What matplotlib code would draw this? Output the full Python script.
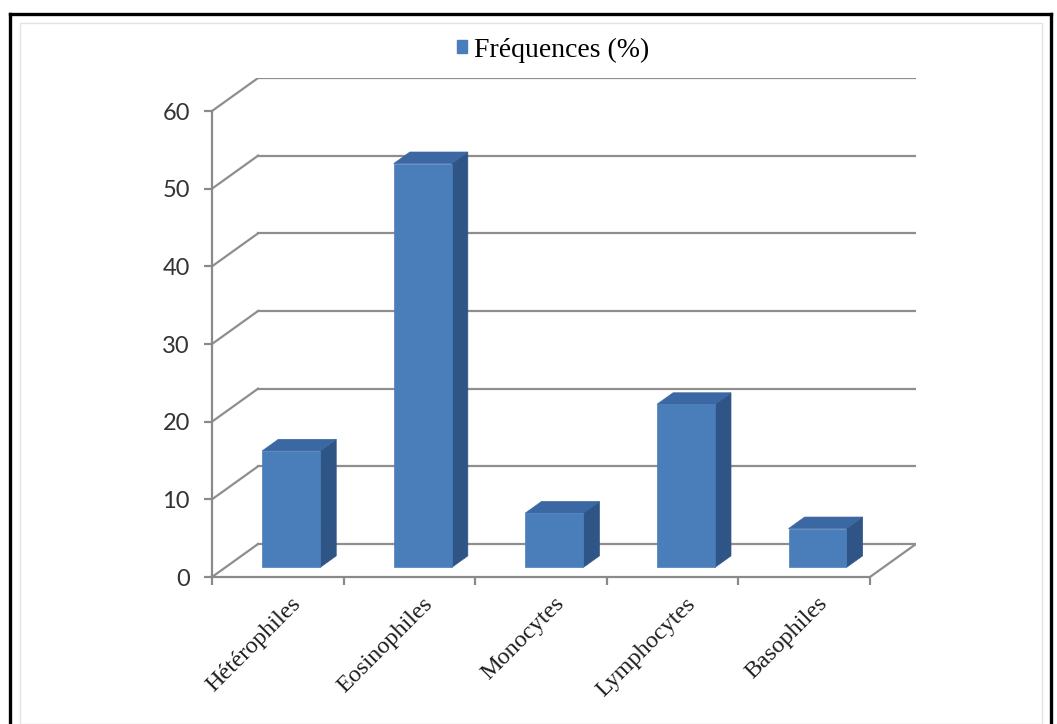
import matplotlib
matplotlib.use("Agg")
import matplotlib.pyplot as plt
from matplotlib.patches import Polygon, Patch
from matplotlib.lines import Line2D
import matplotlib.transforms as mtransforms

# Data
categories = ["Hétérophiles", "Eosinophiles", "Monocytes", "Lymphocytes", "Basophiles"]
frequences = [15, 52, 7, 21, 5]
y_ticks = [0, 10, 20, 30, 40, 50, 60]
legend_label = "Fréquences (%)"

W, H = 1057, 724
fig = plt.figure(figsize=(W / 100, H / 100), dpi=100)
fig.patch.set_facecolor("white")

# Oblique depth offset of the back wall, in data units
DX = 0.35   # along the category axis
DY = 4.25   # along the value axis
n = len(categories)
ymax = y_ticks[-1]

# Axes placed so that the front plane spans the category/value range
left_px, right_px, bottom_px, top_px = 212, 916, 577, 78
ax = fig.add_axes([left_px / W, (H - bottom_px) / H,
                   (right_px - left_px) / W, (bottom_px - top_px) / H])
ax.set_xlim(0, n + DX)
ax.set_ylim(0, ymax + DY)
ax.patch.set_visible(False)

grid_col = "#8e8e8e"
axis_col = "#8a8a8a"

# Back wall gridlines and the side-wall diagonals
for v in y_ticks:
    ax.add_line(Line2D([DX, n + DX], [v + DY, v + DY], color=grid_col, lw=1.6, zorder=1))
    ax.add_line(Line2D([0, DX], [v, v + DY], color=grid_col, lw=1.6, zorder=1))
# Right edge of the floor
ax.add_line(Line2D([n, n + DX], [0, DY], color=grid_col, lw=1.6, zorder=1))

# 3D bars
f0, f1 = 0.29, 0.64     # front / back depth of the bars
bw = 0.44               # bar width
front_col = "#4a7ebb"
side_col = "#2f5586"
top_col = "#3b67a2"
for i, v in enumerate(frequences):
    x0 = i + 0.5 - bw / 2
    x1 = i + 0.5 + bw / 2
    side = [(x1 + f0 * DX, f0 * DY), (x1 + f1 * DX, f1 * DY),
            (x1 + f1 * DX, v + f1 * DY), (x1 + f0 * DX, v + f0 * DY)]
    top = [(x0 + f0 * DX, v + f0 * DY), (x1 + f0 * DX, v + f0 * DY),
           (x1 + f1 * DX, v + f1 * DY), (x0 + f1 * DX, v + f1 * DY)]
    front = [(x0 + f0 * DX, f0 * DY), (x1 + f0 * DX, f0 * DY),
             (x1 + f0 * DX, v + f0 * DY), (x0 + f0 * DX, v + f0 * DY)]
    ax.add_patch(Polygon(side, closed=True, facecolor=side_col, edgecolor=side_col, lw=0.5, zorder=3))
    ax.add_patch(Polygon(top, closed=True, facecolor=top_col, edgecolor=top_col, lw=0.5, zorder=3))
    ax.add_patch(Polygon(front, closed=True, facecolor=front_col, edgecolor=front_col, lw=0.5, zorder=4))

# Spines
for s in ("top", "right"):
    ax.spines[s].set_visible(False)
ax.spines["left"].set_bounds(0, ymax)
ax.spines["bottom"].set_bounds(0, n)
for s in ("left", "bottom"):
    ax.spines[s].set_color(axis_col)
    ax.spines[s].set_linewidth(1.6)
    ax.spines[s].set_zorder(5)

# Value axis
ax.set_yticks(y_ticks)
ax.set_yticklabels([str(t) for t in y_ticks], fontfamily="Lato", fontsize=17, color="#333333")
ax.tick_params(axis="y", direction="out", length=6, width=1.6, color=axis_col, pad=10)

# Category axis: boundary ticks, centred rotated labels
ax.set_xticks(range(n + 1))
ax.set_xticklabels([])
ax.tick_params(axis="x", which="major", direction="out", length=6, width=1.6, color=axis_col)
ax.set_xticks([i + 0.5 for i in range(n)], minor=True)
ax.set_xticklabels(categories, minor=True, fontfamily="Liberation Serif", fontsize=17.5, color="#1e1e1e")
ax.tick_params(axis="x", which="minor", length=0, pad=17)
shift = mtransforms.ScaledTranslation(20 / 100, 0, fig.dpi_scale_trans)
for lab in ax.get_xticklabels(minor=True):
    lab.set_rotation(45)
    lab.set_ha("right")
    lab.set_va("center")
    lab.set_rotation_mode("anchor")
    lab.set_transform(lab.get_transform() + shift)

# Legend
leg = fig.legend(handles=[Patch(facecolor=front_col, edgecolor=front_col)], labels=[legend_label],
                 loc="center", bbox_to_anchor=(553 / W, 1 - 50 / H), frameon=False,
                 handlelength=0.35, handleheight=0.35, handletextpad=0.25,
                 prop={"family": "Liberation Serif", "size": 20})

# Chart area border and outer frame
fig.add_artist(plt.Rectangle((20 / W, 0), 1022 / W, 1 - 23 / H, transform=fig.transFigure,
                             fill=False, edgecolor="#e3e3e3", lw=1.0))
fig.add_artist(Line2D([9.5 / W, 9.5 / W], [0, 1 - 13.5 / H], color="black", lw=2.4, transform=fig.transFigure))
fig.add_artist(Line2D([9.5 / W, 1050.5 / W], [1 - 13.5 / H, 1 - 13.5 / H], color="black", lw=2.4, transform=fig.transFigure))
fig.add_artist(Line2D([1050.5 / W, 1050.5 / W], [0, 1 - 13.5 / H], color="black", lw=2.4, transform=fig.transFigure))

fig.savefig("out.png", dpi=100, facecolor="white")
